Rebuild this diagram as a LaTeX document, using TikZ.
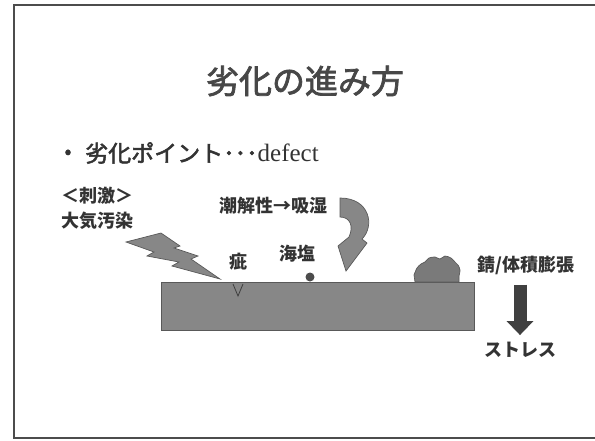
\documentclass[tikz,border=0pt]{standalone}
\usepackage{fontspec}
\setmainfont{Liberation Serif}
\newfontfamily\jp{Noto Sans CJK JP}
\newfontfamily\jpmid[FakeBold=2.2]{Noto Sans CJK JP}
\usetikzlibrary{arrows.meta}
\definecolor{ink}{gray}{0.2}
\definecolor{slab}{gray}{0.53}
\definecolor{slabedge}{gray}{0.35}
\tikzset{
  tag/.style={inner sep=0pt, text=ink, font=\jp\bfseries\fontsize{18}{25}\selectfont},
  grayfill/.style={fill=slab, draw=slabedge, line width=0.7pt},
}
\begin{document}
\begin{tikzpicture}[x=1pt, y=-1pt]
		\useasboundingbox (0,0) rectangle (595,440);
		\draw[black!70, line width=2.5pt] (14,5) rectangle (600,438);
		\node[inner sep=0pt, text=ink!90, font=\jpmid\fontsize{33}{36}\selectfont] (title) at (305,81) {劣化の進み方};
		\node[inner sep=0pt, text=ink, font=\jpmid\fontsize{20}{22}\selectfont] (bullet) at (68,154) {•};
		\node[inner sep=0pt, anchor=west, text=ink, font=\jpmid\fontsize{23}{26}\selectfont] (point) at (85,153) {劣化ポイント･･･{\rmfamily\fontsize{25}{28}\selectfont defect}};
		% slab with a crack, a salt grain and a rust lump
		\draw[grayfill] (161,282) rectangle (474,330);
		\draw[slabedge!70!black, line width=0.8pt] (233,284) -- (238,296) -- (243,284);
		\fill[black!70] (310,277) circle (4.5);
		\draw[grayfill, fill=slab!90!black] (415,282) -- plot[smooth] coordinates {(414,275) (417,268) (421,264) (425,262) (429,258) (435,257) (440,259) (445,256) (451,258) (455,262) (458,265) (460,270) (459,276)} -- (459,282) -- cycle;
		% lightning bolt
		\draw[grayfill, line join=miter] (126,242) -- (161,233) -- (180,246) -- (174,248) -- (198,256) -- (191,259) -- (220,279)
			-- (172,266) -- (179,262) -- (147,256) -- (154,252) -- cycle;
		% curved moisture arrow
		\draw[grayfill] (340,198) .. controls (370,198) and (375,226) .. (362,239) -- (367,243) -- (346,271) -- (338,246) -- (349,237)
			.. controls (354,226) and (350,217) .. (340,217) -- cycle;
		\node[tag, align=center] (stimulus) at (97,208) {＜刺激＞\\大気汚染};
		\node[tag] (moisture) at (273,206) {潮解性→吸湿};
		\node[tag] (flaw) at (238,262) {疵};
		\node[tag] (salt) at (297,254) {海塩};
		\node[tag] (rust) at (526,265) {錆/体積膨張};
		\node[tag] (stress) at (520,350) {ストレス};
		\draw[black!75, line width=13pt, -{Triangle[width=26pt, length=14pt]}, shorten <=10pt, shorten >=7pt]
			(stress.north |- rust.south) -- (stress.north);
	\end{tikzpicture}
\end{document}
